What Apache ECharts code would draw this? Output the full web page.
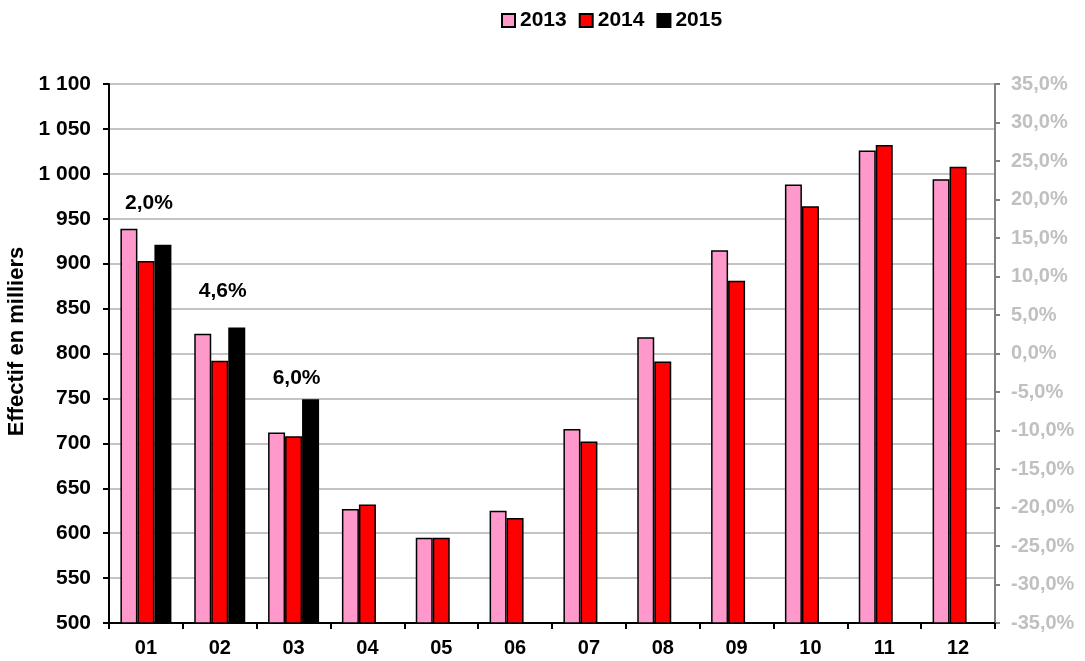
<!DOCTYPE html>
<html>
<head>
<meta charset="utf-8">
<script src="https://cdn.jsdelivr.net/npm/echarts@6/dist/echarts.min.js"></script>
<style>
  html, body { margin: 0; padding: 0; background: #fff; }
  #chart { width: 1085px; height: 661px; }
</style>
</head>
<body>
<div id="chart"></div>
<script>
var months = ['01', '02', '03', '04', '05', '06', '07', '08', '09', '10', '11', '12']
var v2013 = [939, 822, 712, 627, 595, 625, 716, 818, 915, 988, 1026, 994]
var v2014 = [903, 792, 708, 632, 595, 617, 702, 791, 881, 964, 1032, 1008]
var v2015 = [921, 829, 749, null, null, null, null, null, null, null, null, null]
var growthText = ['2,0%', '4,6%', '6,0%']

var container = document.getElementById('chart')
var chart = echarts.init(container)

var font = 'Liberation Sans, Arial, sans-serif'

// growth labels sit above each group of 2015
var growthData = growthText.map(function (t, i) {
    return { value: [i, [955, 857, 760][i]], label: { formatter: t } }
})

function barSeries(name, data, color) {
    return {
        name: name,
        type: 'bar',
        data: data,
        barWidth: 17,
        barGap: '0%',
        itemStyle: { color: color, borderColor: '#000', borderWidth: 1.5 }
    }
}

var option = {
    animation: false,
    textStyle: { fontFamily: font },
    legend: {
        top: 5,
        left: 496,
        icon: 'rect',
        itemWidth: 13,
        itemHeight: 13,
        itemGap: 12,
        textStyle: { fontSize: 21, fontWeight: 'bold', color: '#000', fontFamily: font },
        data: ['2013', '2014', '2015']
    },
    grid: { left: 109, right: 90, top: 84, bottom: 38, outerBoundsMode: 'none' },
    xAxis: {
        type: 'category',
        data: months,
        axisLine: { onZero: false, lineStyle: { color: '#000', width: 2 } },
        axisTick: { show: true, length: 6, lineStyle: { color: '#000', width: 2 } },
        axisLabel: { fontSize: 20, fontWeight: 'bold', color: '#000', margin: 15 }
    },
    yAxis: [
        {
            type: 'value',
            min: 500,
            max: 1100,
            interval: 50,
            name: 'Effectif en milliers',
            nameLocation: 'middle',
            nameGap: 80,
            nameRotate: 90,
            nameTextStyle: { fontSize: 22, fontWeight: 'bold', color: '#000', padding: [0, 0, 0, 24] },
            axisLine: { show: true, lineStyle: { color: '#000', width: 2 } },
            axisTick: { show: true, length: 6, lineStyle: { color: '#000', width: 2 } },
            axisLabel: {
                fontSize: 21, fontWeight: 'bold', color: '#000', margin: 18,
                formatter: function (v) { return String(v).replace(/\B(?=(\d{3})+(?!\d))/g, ' ') }
            },
            splitLine: { lineStyle: { color: '#c4c4c4', width: 2 } }
        },
        {
            type: 'value',
            min: -35,
            max: 35,
            interval: 5,
            position: 'right',
            axisLine: { show: true, lineStyle: { color: '#808080', width: 2 } },
            axisTick: { show: true, length: 5, lineStyle: { color: '#808080', width: 2 } },
            axisLabel: {
                fontSize: 20, fontWeight: 'bold', color: '#c0c0c0', margin: 16,
                formatter: function (v) { return v.toFixed(1).replace('.', ',') + '%' }
            },
            splitLine: { show: false }
        }
    ],
    series: [
        barSeries('2013', v2013, '#ff99cc'),
        barSeries('2014', v2014, '#ff0000'),
        barSeries('2015', v2015, '#000000'),
        {
            type: 'scatter',
            data: growthData,
            symbolSize: 1,
            silent: true,
            itemStyle: { opacity: 0 },
            label: {
                show: true,
                position: 'top',
                distance: 0,
                offset: [3, 0],
                fontSize: 21,
                fontWeight: 'bold',
                color: '#000',
                opacity: 1
            }
        }
    ]
}

chart.setOption(option)
</script>
</body>
</html>
